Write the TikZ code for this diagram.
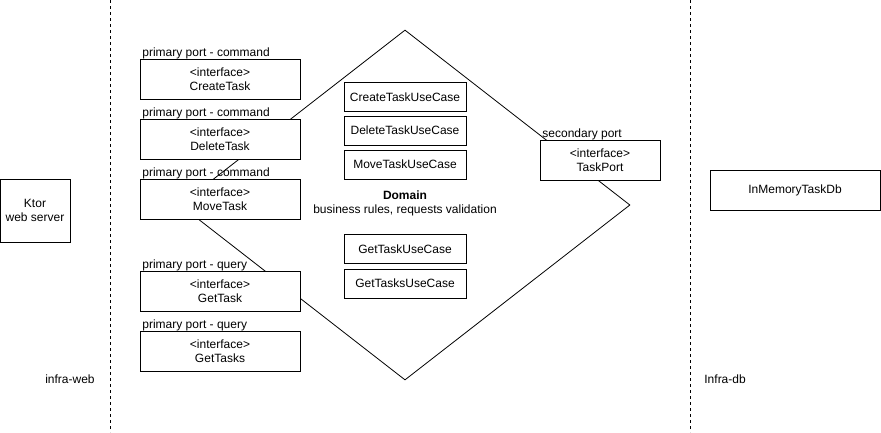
\documentclass[tikz,border=0pt]{standalone}
\usepackage{fontspec}
\setmainfont{Liberation Sans}
\usetikzlibrary{shapes.geometric}
\begin{document}
\begin{tikzpicture}[x=1pt, y=-1pt, line width=0.8pt,
  every node/.style={font=\fontsize{12}{14}\selectfont, inner sep=0pt},
  portbox/.style={draw, fill=white, minimum width=160pt, minimum height=40pt, align=center},
  usecasebox/.style={draw, fill=white, minimum width=122pt, minimum height=29pt},
  portlabel/.style={anchor=base west},
  border/.style={dash pattern=on 3pt off 3pt}]
\useasboundingbox (0,0) rectangle (881,432);
% layer borders
\coordinate (webtop) at (110,0);
\coordinate (webbot) at (110,432);
\coordinate (dbtop) at (690,0);
\coordinate (dbbot) at (690,432);
\draw[border] (webtop) -- (webbot);
\draw[border] (dbtop) -- (dbbot);
% domain
\node[draw, diamond, minimum width=450pt, minimum height=350pt] (domain) at (405,205){};
\node[align=center] (domaintxt) at (405,203.5){\textbf{Domain}\\business rules, requests validation};
% infra-web
\node[draw, minimum width=70pt, minimum height=63pt, align=center] (ktor) at (35,210.5){Ktor\\web server};
\node[anchor=base] (infraweb) at (70,383){infra-web};
% primary ports
\node[portbox] (createtask) at (220,79){\textless interface\textgreater\\CreateTask};
\node[portlabel] (createlbl) at (142,56){primary port - command};
\node[portbox] (deletetask) at (220,139){\textless interface\textgreater\\DeleteTask};
\node[portlabel] (deletelbl) at (142,116){primary port - command};
\node[portbox] (movetask) at (220,199){\textless interface\textgreater\\MoveTask};
\node[portlabel] (movelbl) at (142,176){primary port - command};
\node[portbox] (gettask) at (220,291){\textless interface\textgreater\\GetTask};
\node[portlabel] (gettasklbl) at (142,268){primary port - query};
\node[portbox] (gettasks) at (220,351){\textless interface\textgreater\\GetTasks};
\node[portlabel] (gettaskslbl) at (142,328){primary port - query};
% use cases
\node[usecasebox] (createuc) at (405,97){CreateTaskUseCase};
\node[usecasebox] (deleteuc) at (405,130.5){DeleteTaskUseCase};
\node[usecasebox] (moveuc) at (405,164.5){MoveTaskUseCase};
\node[usecasebox] (getuc) at (405,249){GetTaskUseCase};
\node[usecasebox] (getsuc) at (405,283.5){GetTasksUseCase};
% secondary port
\node[portbox, minimum width=120pt] (taskport) at (600,160){\textless interface\textgreater\\TaskPort};
\node[portlabel] (secondlbl) at (542,137){secondary port};
% infra-db
\node[draw, minimum width=170pt, minimum height=40pt] (inmemdb) at (795,190){InMemoryTaskDb};
\node[anchor=base west] (infradb) at (704,383){Infra-db};
\end{tikzpicture}
\end{document}
